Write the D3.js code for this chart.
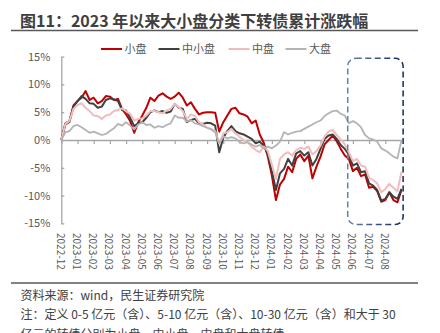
<!DOCTYPE html>
<html><head><meta charset="utf-8">
<script src="https://cdn.jsdelivr.net/npm/d3@7"></script>
<style>
html,body{margin:0;padding:0;background:#fff;}
svg{display:block;font-family:"Noto Sans CJK SC","Noto Sans",sans-serif;}
</style></head><body>
<svg id="chart" width="440" height="333"></svg>
<script>
// ---- data ----
const monthLabels = ["2022-12","2023-01","2023-02","2023-03","2023-04","2023-05","2023-06","2023-07","2023-08","2023-09","2023-10","2023-11","2023-12","2024-01","2024-02","2024-03","2024-04","2024-05","2024-06","2024-07","2024-08"];
const seriesNames = ["小盘","中小盘","中盘","大盘"];
// cumulative change (%), sampled four times per month from 2022-12 tick
const small = [
  0, 3.0, 3.4, 6.2,
  7.0, 7.6, 8.8, 7.2,
  7.6, 6.6, 7.0, 7.9,
  7.8, 7.2, 7.4, 5.6,
  4.6, 3.4, 1.3, 3.2,
  4.4, 5.8, 7.6, 7.0,
  8.0, 8.4, 7.8, 7.4,
  7.8, 8.5, 7.6, 6.2,
  6.8, 5.6, 4.6, 4.9,
  5.0, 5.0, 4.9, 1.5,
  3.2, 4.4, 5.6, 5.8,
  4.8, 4.6, 4.2, 3.0,
  3.5, 1.0, -0.5, -3.0,
  -6.4, -10.8, -8.0, -7.0,
  -4.8, -5.8, -3.4, -2.6,
  -3.8, -2.8, -6.9, -4.8,
  -3.0, -0.8, 0.0, 0.8,
  -0.2, -1.6, -2.8, -3.4,
  -5.6, -5.0, -6.5, -6.2,
  -8.6, -8.4, -9.2, -11.1,
  -10.8, -9.4, -10.8, -11.2,
  -9.0];
const midSmall = [
  0, 2.8, 3.2, 6.0,
  7.0, 7.9, 7.4, 6.6,
  6.5, 5.8, 6.0, 7.2,
  7.5, 7.3, 7.0, 5.4,
  5.3, 4.0, 2.5, 3.0,
  3.2, 4.0, 5.0, 5.3,
  5.0, 5.2, 4.9, 5.1,
  6.5, 5.8, 5.6, 3.2,
  3.6, 3.8, 3.0, 2.9,
  3.1, 3.0, 2.6, -2.2,
  0.4, 1.6, 2.5, 1.6,
  1.2, 1.0, 0.6, 0.2,
  -0.6, -0.3, -1.0, -2.6,
  -5.6, -9.0, -6.0, -5.2,
  -3.4, -4.6, -2.4, -2.0,
  -2.8, -2.2, -4.6, -3.4,
  -1.6, 0.2, 0.8, 1.0,
  0.2, -0.9, -1.6, -2.6,
  -4.6, -4.2, -5.8, -5.6,
  -7.8, -8.2, -9.0, -10.9,
  -10.6, -9.4, -10.2, -10.6,
  -8.8];
const mid = [
  0, 2.9, 3.4, 5.6,
  6.3, 6.6, 5.8, 5.2,
  4.4, 4.3, 3.8, 4.4,
  4.6, 5.2, 5.4, 5.7,
  5.2, 4.7, 3.5, 3.8,
  3.9, 4.4, 5.2, 5.2,
  5.0, 4.8, 5.3, 5.6,
  6.5, 5.9, 5.2, 3.8,
  4.6, 4.3, 3.2, 2.8,
  2.2, 2.0, 1.6, -0.6,
  1.2, 1.4, 2.0, 1.2,
  0.6, 0.0, -0.4, -1.2,
  -1.8, -2.2, -1.2, -2.0,
  -4.5, -7.0, -3.4, -2.6,
  -2.2, -2.8, -1.8, -1.4,
  -1.6, -1.2, -2.6, -2.0,
  -1.0, 0.6, 1.5, 1.8,
  0.9, 0.1, -0.8, -2.2,
  -3.8, -3.4, -4.6, -4.8,
  -6.8, -7.2, -7.8, -9.4,
  -8.8, -7.9, -8.6, -9.2,
  -5.7];
const large = [
  0, 1.4, 1.6, 2.5,
  2.7, 2.3, 1.8, 1.3,
  1.5, 1.2, 0.9, 1.1,
  1.6, 2.1, 2.9, 2.6,
  3.2, 2.6, 1.9, 2.8,
  3.2, 2.7, 2.8, 2.2,
  2.5, 2.3, 2.7, 3.0,
  4.4, 4.0, 4.0, 3.3,
  3.6, 3.0, 2.8, 2.5,
  2.2, 1.9, 1.4, -0.6,
  0.6, 0.3, 0.5, 0.3,
  -0.4, -0.6, -0.4, -0.8,
  -1.2, -0.9, -1.5, -1.2,
  -1.5, -1.0, -0.3, 1.4,
  1.0, 1.3, 1.5, 1.6,
  2.0, 2.4, 2.8, 3.2,
  3.5, 4.3, 4.8, 5.2,
  5.3, 4.7, 4.4, 3.0,
  3.4, 3.0, 2.3, 0.9,
  0.3, 0.1, -0.3, -1.5,
  -1.9, -2.4, -3.0, -3.3,
  0.0];
const yTicks = [-15, -10, -5, 0, 5, 10, 15];
const highlightMonths = [17.68, 21.1];   // dashed box span (month index)
const highlightRange = [14.7, -15.2];    // dashed box span (%)
const samplesPerMonth = 4;

// ---- styles ----
const colors = ["#c00000", "#404040", "#f2bcbc", "#b4b4b4"];
const widths = [2, 2, 2, 1.8];

const svg = d3.select("#chart");
const x = d3.scaleLinear().domain([0, 21]).range([61.3, 401.5]);
const y = d3.scaleLinear().domain([-15, 15]).range([223.4, 56.6]);

// title
svg.append("text").attr("x", 20).attr("y", 27)
  .attr("font-size", 16).attr("font-weight", "bold").attr("fill", "#404040")
  .text("图11：2023 年以来大小盘分类下转债累计涨跌幅");
svg.append("line").attr("x1", 11).attr("x2", 418).attr("y1", 30.5).attr("y2", 30.5)
  .attr("stroke", "#595959").attr("stroke-width", 1.5);

// legend
const legX = [101, 158.5, 228.5, 285.5];
seriesNames.forEach((n, i) => {
  const g = svg.append("g").attr("transform", `translate(${legX[i]},49)`);
  g.append("line").attr("x1", 0).attr("x2", 21).attr("y1", 0).attr("y2", 0)
    .attr("stroke", colors[i]).attr("stroke-width", 2);
  g.append("text").attr("x", 23.5).attr("y", 0).attr("dy", "0.36em")
    .attr("font-size", 11).attr("fill", "#595959").text(n);
});

// y axis
const yAxis = svg.append("g").attr("transform", `translate(${x(0)},0)`)
  .call(d3.axisLeft(y).tickValues(yTicks).tickSizeInner(-3).tickSizeOuter(0)
    .tickPadding(11).tickFormat(d => d + "%"));
yAxis.select(".domain").attr("stroke", "#a0a0a0").attr("stroke-width", 1.2);
yAxis.selectAll(".tick line").attr("stroke", "#a0a0a0").attr("stroke-width", 1.2);
yAxis.selectAll("text").attr("font-size", 11).attr("fill", "#595959")
  .attr("font-family", '"Noto Sans CJK SC","Noto Sans",sans-serif');

// x axis at 0
const xAxis = svg.append("g").attr("transform", `translate(0,${y(0)})`)
  .call(d3.axisBottom(x).tickValues(d3.range(0, monthLabels.length)).tickSizeInner(4)
    .tickSizeOuter(0).tickFormat(""));
xAxis.select(".domain").attr("stroke", "#a6a6a6").attr("stroke-width", 1.5);
xAxis.selectAll(".tick line").attr("stroke", "#a6a6a6").attr("stroke-width", 1.2);

// x labels (bottom, rotated)
svg.append("g").selectAll("text").data(monthLabels).join("text")
  .attr("transform", (d, i) => `translate(${x(i) - 1},233) rotate(90)`)
  .attr("dy", "0.35em").attr("font-size", 10).attr("fill", "#595959")
  .text(d => d);

// lines
const all = [small, midSmall, mid, large];
const line = d3.line().x((d, i) => x(i / samplesPerMonth)).y(d => y(d))
  .curve(d3.curveLinear);
all.forEach((s, i) => {
  svg.append("path").attr("d", line(s)).attr("fill", "none")
    .attr("stroke", colors[i]).attr("stroke-width", widths[i])
    .attr("stroke-linejoin", "round");
});

// dashed highlight box
const defs = svg.append("defs");
const grad = defs.append("linearGradient").attr("id", "boxg")
  .attr("x1", "0%").attr("x2", "100%").attr("y1", "0%").attr("y2", "0%");
grad.append("stop").attr("offset", "0%").attr("stop-color", "#6a7fa8");
grad.append("stop").attr("offset", "100%").attr("stop-color", "#16285a");
svg.append("rect")
  .attr("x", x(highlightMonths[0])).attr("y", y(highlightRange[0]))
  .attr("width", x(highlightMonths[1]) - x(highlightMonths[0]))
  .attr("height", y(highlightRange[1]) - y(highlightRange[0]))
  .attr("rx", 8).attr("ry", 8).attr("fill", "none")
  .attr("stroke", "url(#boxg)").attr("stroke-width", 1.5)
  .attr("stroke-dasharray", "6,3.5");

// footer
svg.append("line").attr("x1", 11).attr("x2", 418).attr("y1", 283).attr("y2", 283)
  .attr("stroke", "#595959").attr("stroke-width", 1.5);
const notes = ["资料来源：wind，民生证券研究院",
  "注：定义 0-5 亿元（含）、5-10 亿元（含）、10-30 亿元（含）和大于 30",
  "亿元的转债分别为小盘、中小盘、中盘和大盘转债"];
notes.forEach((t, i) => {
  svg.append("text").attr("x", 20.5).attr("y", 299.5 + i * 19.5)
    .attr("font-size", 12).attr("fill", "#404040").text(t);
});
</script>
</body></html>
